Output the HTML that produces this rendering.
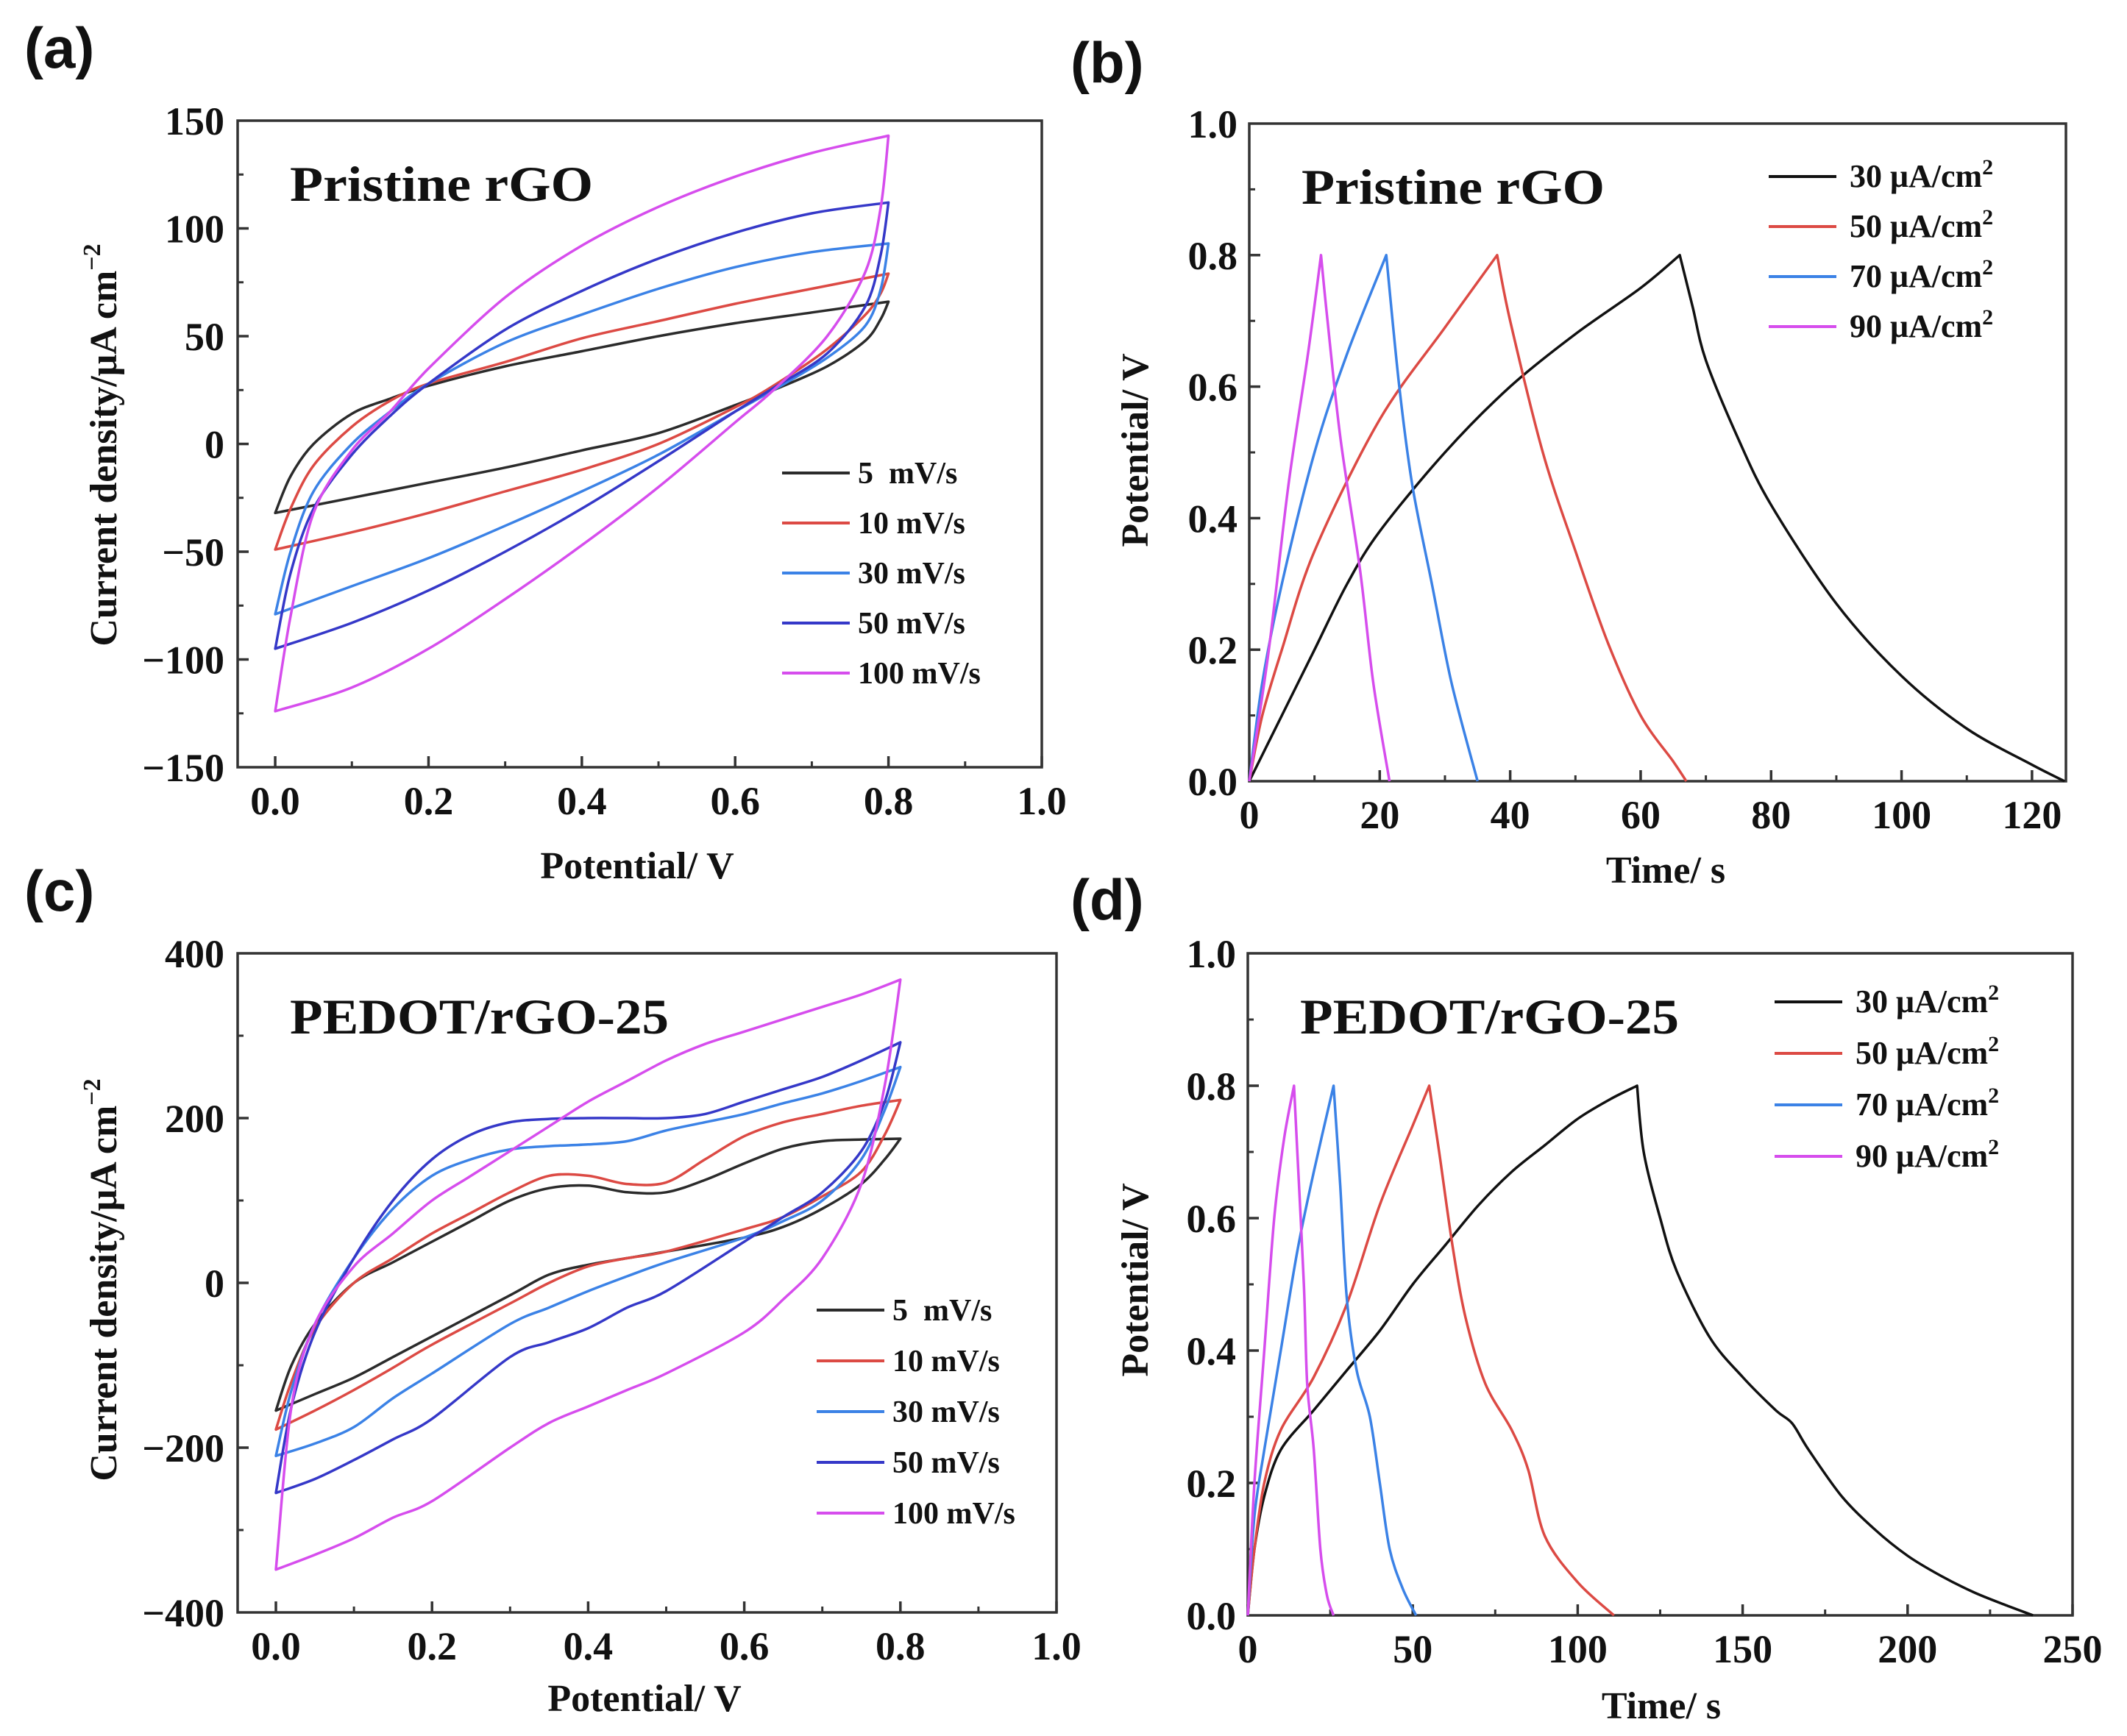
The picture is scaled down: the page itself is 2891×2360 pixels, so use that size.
<!DOCTYPE html>
<html><head><meta charset="utf-8"><style>
html,body{margin:0;padding:0;background:#fff;}
svg{display:block;}
text{font-family:"Liberation Serif",serif;font-weight:bold;fill:#111;}
.pl{font-family:"Liberation Sans",sans-serif;}
</style></head><body>
<svg id="fig" width="2891" height="2360" viewBox="0 0 2891 2360" xmlns="http://www.w3.org/2000/svg"></svg>
<script>
// ===== Panel (a) CV, Pristine rGO: loop points (potential V, current µA/cm2) =====
const aPot = [0,0.02,0.05,0.1,0.15,0.2,0.3,0.4,0.5,0.6,0.7,0.8];
const aPotBack = [0.8,0.79,0.77,0.72,0.65,0.6,0.5,0.4,0.3,0.2,0.1,0];
const aUp5 = [-32,-15,0,14,21,27,36,43,50,56,61,66];
const aDn5 = [66,58,48,36,25,18,5,-3,-11,-18,-25,-32];
const aUp10 = [-49,-30,-10,8,20,28,38,49,57,65,72,79];
const aDn10 = [79,70,60,44,27,17,0,-12,-22,-32,-41,-49];
const aUp30 = [-79,-50,-22,0,15,28,47,60,72,82,89,93];
const aDn30 = [93,72,55,40,25,15,-5,-22,-38,-53,-66,-79];
const aUp50 = [-95,-60,-30,-5,13,28,53,71,86,98,107,112];
const aDn50 = [112,88,64,42,26,15,-8,-30,-50,-68,-83,-95];
const aUp100 = [-124,-80,-32,-3,15,35,68,92,110,124,135,143];
const aDn100 = [143,110,80,50,25,10,-20,-47,-72,-95,-113,-124];

// ===== Panel (c) CV, PEDOT/rGO-25 =====
const cPot = [0,0.02,0.05,0.1,0.15,0.2,0.25,0.3,0.35,0.4,0.45,0.5,0.55,0.6,0.65,0.7,0.75,0.8];
const cPotBack = [0.8,0.78,0.75,0.7,0.65,0.6,0.5,0.45,0.4,0.35,0.3,0.2,0.15,0.1,0.05,0];
const cUp5 = [-155,-100,-50,0,25,50,75,100,115,118,110,110,125,145,163,172,174,175];
const cDn5 = [175,150,120,90,68,55,38,30,22,10,-15,-65,-90,-115,-135,-155];
const cUp10 = [-178,-120,-55,0,30,60,85,110,130,130,120,122,150,178,195,205,215,222];
const cDn10 = [222,180,135,105,80,65,38,30,20,0,-25,-75,-103,-130,-155,-178];
const cUp30 = [-210,-130,-50,30,90,130,150,162,166,168,172,185,195,205,218,230,245,262];
const cDn30 = [262,210,150,100,75,55,25,8,-10,-30,-50,-110,-140,-175,-195,-210];
const cUp50 = [-255,-150,-60,30,100,150,180,195,199,200,200,200,205,220,235,250,270,292];
const cDn50 = [292,220,160,110,80,50,-10,-30,-55,-72,-90,-165,-190,-215,-238,-255];
const cUp100 = [-348,-150,-50,20,60,100,130,160,190,220,245,270,290,305,320,335,350,368];
const cDn100 = [368,240,120,30,-20,-60,-110,-130,-150,-170,-200,-265,-285,-310,-330,-348];

// ===== Panel (b) GCD, Pristine rGO: time (s), potential (V) =====
const bT30 = [0,5,10,15,20,30,40,50,60,66,68,70,75,80,90,100,110,120,125];
const bV30 = [0,0.1,0.2,0.3,0.38,0.5,0.6,0.68,0.75,0.8,0.72,0.64,0.52,0.42,0.27,0.16,0.08,0.025,0];
const bT50 = [0,2,5,10,20,30,38,40,45,50,55,60,65,67];
const bV50 = [0,0.1,0.2,0.35,0.55,0.69,0.8,0.7,0.5,0.35,0.21,0.1,0.03,0];
const bT70 = [0,2,5,10,15,21,23,25,28,31,35];
const bV70 = [0,0.15,0.3,0.5,0.65,0.8,0.6,0.45,0.3,0.15,0];
const bT90 = [0,3,6,9,11,12,14,17,19,21.5];
const bV90 = [0,0.2,0.45,0.65,0.8,0.7,0.52,0.32,0.15,0];

// ===== Panel (d) GCD, PEDOT/rGO-25 =====
const dT30 = [0,2,5,10,20,30,40,50,60,70,80,90,100,110,118,120,125,130,140,150,160,165,170,180,190,200,210,220,230,238];
const dV30 = [0,0.1,0.18,0.25,0.31,0.37,0.43,0.5,0.56,0.62,0.67,0.71,0.75,0.78,0.8,0.7,0.6,0.52,0.42,0.36,0.31,0.29,0.25,0.18,0.13,0.09,0.06,0.035,0.015,0];
const dT50 = [0,2,5,10,20,30,40,50,55,58,62,66,72,80,85,90,100,111];
const dV50 = [0,0.1,0.2,0.28,0.36,0.47,0.62,0.74,0.8,0.7,0.56,0.45,0.35,0.28,0.22,0.12,0.05,0];
const dT70 = [0,2,5,10,15,20,26,28,30,33,37,40,43,47,51];
const dV70 = [0,0.15,0.25,0.4,0.55,0.67,0.8,0.65,0.48,0.37,0.3,0.2,0.1,0.04,0];
const dT90 = [0,2,5,8,11,14,15,17,18,20,22,24,26];
const dV90 = [0,0.2,0.4,0.6,0.72,0.8,0.7,0.5,0.35,0.25,0.1,0.03,0];

// tick label arrays
const cvXTicks = ["0.0","0.2","0.4","0.6","0.8","1.0"];
const aYTicks = ["150","100","50","0","\u221250","\u2212100","\u2212150"];
const cYTicks = ["400","200","0","\u2212200","\u2212400"];
const bXTicks = ["0","20","40","60","80","100","120"];
const dXTicks = ["0","50","100","150","200","250"];
const gcdYTicks = ["1.0","0.8","0.6","0.4","0.2","0.0"];
const cvLegend = ["5  mV/s","10 mV/s","30 mV/s","50 mV/s","100 mV/s"];
const gcdLegend = ["30","50","70","90"];

const COLORS = ["#2b2b2b","#dc4a44","#3b82e6","#3538c8","#d64ded"];
const GCOLORS = ["#111111","#dc4a44","#3b82e6","#d64ded"];
const NS = "http://www.w3.org/2000/svg";
const svg = document.getElementById('fig');

function mk(tag, attrs, parent){
  const e = document.createElementNS(NS, tag);
  for (const k in attrs) e.setAttribute(k, attrs[k]);
  (parent||svg).appendChild(e);
  return e;
}
function isCorner(pts, i){
  if (i<=0 || i>=pts.length-1) return true;
  const a=pts[i-1], b=pts[i], c=pts[i+1];
  const dx1=b[0]-a[0], dx2=c[0]-b[0], dy1=b[1]-a[1], dy2=c[1]-b[1];
  return (dx1*dx2<0) || (dy1*dy2<0 && Math.abs(dy1)>3 && Math.abs(dy2)>3 && (Math.abs(dy1)>Math.abs(dx1)*0.3));
}
function smoothPath(pts, closed){
  let d = "M"+pts[0][0].toFixed(1)+","+pts[0][1].toFixed(1);
  const t=0.16;
  for (let i=0;i<pts.length-1;i++){
    const p1=pts[i], p2=pts[i+1];
    const p0 = isCorner(pts,i) ? p1 : pts[i-1];
    const p3 = isCorner(pts,i+1) ? p2 : pts[i+2];
    const c1=[p1[0]+(p2[0]-p0[0])*t, p1[1]+(p2[1]-p0[1])*t];
    const c2=[p2[0]-(p3[0]-p1[0])*t, p2[1]-(p3[1]-p1[1])*t];
    d += "C"+c1[0].toFixed(1)+","+c1[1].toFixed(1)+" "+c2[0].toFixed(1)+","+c2[1].toFixed(1)+" "+p2[0].toFixed(1)+","+p2[1].toFixed(1);
  }
  if (closed) d += "Z";
  return d;
}

function panel(cfg){
  const g = mk('g', {});
  
  
  const X = v => cfg.L + (v-cfg.x0)/(cfg.x1-cfg.x0)*(cfg.R-cfg.L);
  const Y = v => cfg.B - (v-cfg.y0)/(cfg.y1-cfg.y0)*(cfg.B-cfg.T);
  const fr = mk('rect', {x:cfg.L,y:cfg.T,width:cfg.R-cfg.L,height:cfg.B-cfg.T,fill:'none',stroke:'#333','stroke-width':3.5}, g);
  
  
  cfg.xTicks.forEach((lab,i)=>{
    const v = cfg.xt0 + i*cfg.xstep;
    const x = X(v);
    const tk = mk('line',{x1:x,x2:x,y1:cfg.B,y2:cfg.B-15,stroke:'#333','stroke-width':3.5},g);
    
    
    const vm = v + cfg.xstep/2;
    if (X(vm) < cfg.R-2){
      const mt = mk('line',{x1:X(vm),x2:X(vm),y1:cfg.B,y2:cfg.B-8,stroke:'#333','stroke-width':3},g);
      
      
    }
    const t = mk('text',{x:x,y:cfg.B+cfg.xlabOff,'font-size':54,'text-anchor':'middle'},g);
    t.textContent = lab;
    
    
  });
  const ny = cfg.yTicks.length;
  cfg.yTicks.forEach((lab,i)=>{
    const v = cfg.y1 - i*(cfg.y1-cfg.y0)/(ny-1);
    const y = Y(v);
    if (i>0 && i<ny-1){
      const tk = mk('line',{x1:cfg.L,x2:cfg.L+15,y1:y,y2:y,stroke:'#333','stroke-width':3.5},g);
      
      
    }
    if (i<ny-1){
      const ym = Y(v-(cfg.y1-cfg.y0)/(ny-1)/2);
      const mt = mk('line',{x1:cfg.L,x2:cfg.L+8,y1:ym,y2:ym,stroke:'#333','stroke-width':3},g);
      
      
    }
    const t = mk('text',{x:cfg.L-cfg.ylabOff,y:y+19,'font-size':54,'text-anchor':'end'},g);
    t.textContent = lab;
    
    
  });
  const xt = mk('text',{x:cfg.xtX,y:cfg.xtY,'font-size':52,'text-anchor':'middle'},g);
  xt.textContent = cfg.xTitle;
  
  
  const yt = mk('text',{x:0,y:0,'font-size':52,'text-anchor':'middle',transform:'translate('+cfg.ytX+','+cfg.ytY+') rotate(-90)'},g);
  
  
  if (cfg.cv){
    yt.textContent = 'Current density/\u03BCA cm';
    const sup = mk('tspan',{dy:-22,'font-size':34},yt);
    sup.textContent = '\u22122';
  } else {
    yt.textContent = 'Potential/ V';
  }
  const it = mk('text',{x:cfg.L+71,y:cfg.T+109,'font-size':68,textLength:cfg.itW,lengthAdjust:'spacingAndGlyphs'},g);
  it.textContent = cfg.inner;
  
  
  cfg.series.forEach((s,i)=>{
    const pts = s.xs.map((x,j)=>[X(x),Y(s.ys[j])]);
    const p = mk('path',{d:smoothPath(pts, cfg.cv),fill:'none',stroke:s.color,'stroke-width':3.5,'stroke-linejoin':'round'},g);
    
    
  });
  cfg.legend.forEach((lab,i)=>{
    const y = cfg.lgY + i*cfg.lgDy;
    const l = mk('line',{x1:cfg.lgX,x2:cfg.lgX+92,y1:y,y2:y,stroke:cfg.series[i].color,'stroke-width':4},g);
    
    
    const t = mk('text',{x:cfg.lgX+cfg.lgTx,y:y+14,'font-size':cfg.lgFs},g);
    
    
    if (cfg.cv){ t.textContent = lab; t.style.whiteSpace='pre'; }
    else {
      t.textContent = lab + ' \u03BCA/cm';
      const sp = mk('tspan',{dy:-17,'font-size':30},t);
      sp.textContent = '2';
    }
  });
}

function loop(xs, xsb, up, dn){ return {xs: xs.concat(xsb.slice(1)), ys: up.concat(dn.slice(1))}; }

const aLoops = [loop(aPot,aPotBack,aUp5,aDn5),loop(aPot,aPotBack,aUp10,aDn10),loop(aPot,aPotBack,aUp30,aDn30),loop(aPot,aPotBack,aUp50,aDn50),loop(aPot,aPotBack,aUp100,aDn100)];
const cLoops = [loop(cPot,cPotBack,cUp5,cDn5),loop(cPot,cPotBack,cUp10,cDn10),loop(cPot,cPotBack,cUp30,cDn30),loop(cPot,cPotBack,cUp50,cDn50),loop(cPot,cPotBack,cUp100,cDn100)];
const cvNames = ['cv-5mVs','cv-10mVs','cv-30mVs','cv-50mVs','cv-100mVs'];

panel({name:'panel-a', cv:true, L:323,R:1416,T:164,B:1043, x0:-0.049,x1:1.0,y0:-150,y1:150,
  xt0:0,xstep:0.2,xTicks:cvXTicks,yTicks:aYTicks,xlabOff:64,ylabOff:18,
  xTitle:'Potential/ V',xtX:866,xtY:1194,ytX:158,ytY:605,inner:'Pristine rGO',itW:412,
  series:aLoops.map((l,i)=>({xs:l.xs,ys:l.ys,color:COLORS[i],name:cvNames[i]})),
  legend:cvLegend,lgX:1063,lgY:643,lgDy:68,lgTx:103,lgFs:42});

panel({name:'panel-c', cv:true, L:323,R:1436,T:1296,B:2192, x0:-0.049,x1:1.0,y0:-400,y1:400,
  xt0:0,xstep:0.2,xTicks:cvXTicks,yTicks:cYTicks,xlabOff:64,ylabOff:18,
  xTitle:'Potential/ V',xtX:876,xtY:2326,ytX:158,ytY:1740,inner:'PEDOT/rGO-25',itW:515,
  series:cLoops.map((l,i)=>({xs:l.xs,ys:l.ys,color:COLORS[i],name:cvNames[i]})),
  legend:cvLegend,lgX:1110,lgY:1781,lgDy:69,lgTx:103,lgFs:42});

const gNames = ['gcd-30uA','gcd-50uA','gcd-70uA','gcd-90uA'];
panel({name:'panel-b', cv:false, L:1698,R:2808,T:168,B:1062, x0:0,x1:125.2,y0:0,y1:1,
  xt0:0,xstep:20,xTicks:bXTicks,yTicks:gcdYTicks,xlabOff:64,ylabOff:16,
  xTitle:'Time/ s',xtX:2264,xtY:1200,ytX:1560,ytY:612,inner:'Pristine rGO',itW:412,
  series:[[bT30,bV30],[bT50,bV50],[bT70,bV70],[bT90,bV90]].map((a,i)=>({xs:a[0],ys:a[1],color:GCOLORS[i],name:gNames[i]})),
  legend:gcdLegend,lgX:2404,lgY:240,lgDy:68,lgTx:110,lgFs:44});

panel({name:'panel-d', cv:false, L:1696,R:2817,T:1296,B:2196, x0:0,x1:250,y0:0,y1:1,
  xt0:0,xstep:50,xTicks:dXTicks,yTicks:gcdYTicks,xlabOff:64,ylabOff:16,
  xTitle:'Time/ s',xtX:2258,xtY:2336,ytX:1560,ytY:1740,inner:'PEDOT/rGO-25',itW:515,
  series:[[dT30,dV30],[dT50,dV50],[dT70,dV70],[dT90,dV90]].map((a,i)=>({xs:a[0],ys:a[1],color:GCOLORS[i],name:gNames[i]})),
  legend:gcdLegend,lgX:2412,lgY:1362,lgDy:70,lgTx:110,lgFs:44});

[['(a)',33,92],['(b)',1455,112],['(c)',33,1238],['(d)',1455,1250]].forEach(p=>{
  const t = mk('text',{x:p[1],y:p[2],'font-size':78,class:'pl'});
  t.textContent = p[0];
  
  
});
</script>
</body></html>
